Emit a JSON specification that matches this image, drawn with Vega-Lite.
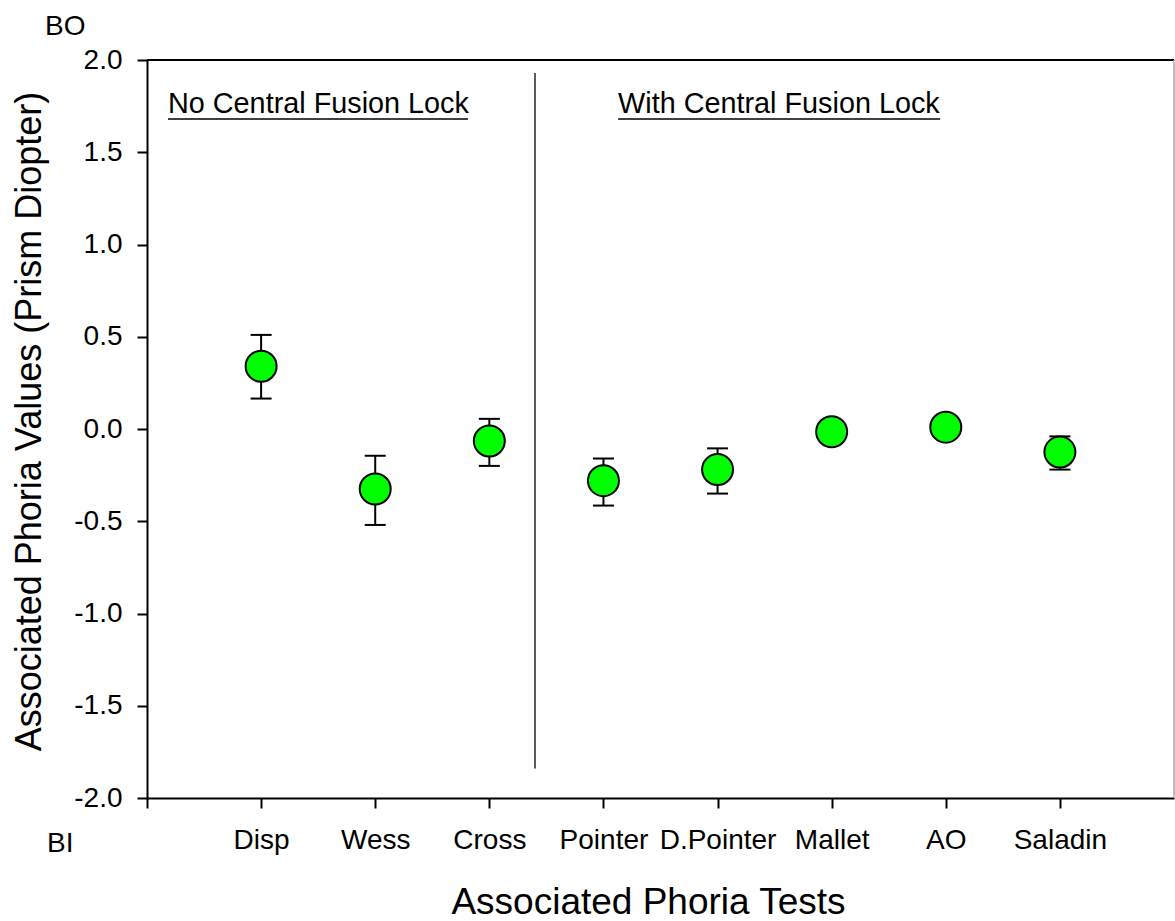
{
  "$schema": "https://vega.github.io/schema/vega-lite/v6.json",
  "width": 1027,
  "height": 738,
  "autosize": {"type": "none"},
  "padding": {"left": 147, "top": 60, "right": 1, "bottom": 123},
  "background": "white",
  "config": {
    "font": "Liberation Sans",
    "view": {"stroke": null},
    "axis": {
      "domainColor": "black", "domainWidth": 2, "tickColor": "black", "tickWidth": 2,
      "grid": false, "labelColor": "black", "titleColor": "black",
      "labelFont": "Liberation Sans", "titleFont": "Liberation Sans",
      "labelFontSize": 28, "titleFontSize": 36, "titleFontWeight": "normal"
    }
  },
  "datasets": {
    "tests": [
      {"test": "Disp", "pos": 1, "mean": 0.34, "lo": 0.165, "hi": 0.51},
      {"test": "Wess", "pos": 2, "mean": -0.325, "lo": -0.52, "hi": -0.145},
      {"test": "Cross", "pos": 3, "mean": -0.065, "lo": -0.2, "hi": 0.055},
      {"test": "Pointer", "pos": 4, "mean": -0.28, "lo": -0.415, "hi": -0.16},
      {"test": "D.Pointer", "pos": 5, "mean": -0.22, "lo": -0.35, "hi": -0.105},
      {"test": "Mallet", "pos": 6, "mean": -0.015, "lo": -0.07, "hi": 0.04},
      {"test": "AO", "pos": 7, "mean": 0.01, "lo": -0.05, "hi": 0.07},
      {"test": "Saladin", "pos": 8, "mean": -0.125, "lo": -0.22, "hi": -0.04}
    ],
    "notes": [
      {"label": "No Central Fusion Lock", "x": 0.184, "y": 1.713, "kind": "note"},
      {"label": "With Central Fusion Lock", "x": 4.128, "y": 1.713, "kind": "note"},
      {"label": "BO", "x": -0.894, "y": 2.136, "kind": "side"},
      {"label": "BI", "x": -0.876, "y": -2.293, "kind": "side"}
    ],
    "underlines": [
      {"x": 0.184, "x2": 2.813, "y": 1.68},
      {"x": 4.128, "x2": 6.95, "y": 1.68}
    ],
    "frame": [
      {"part": "top", "x": 0, "x2": 9, "y": 2, "y2": 2},
      {"part": "sep", "x": 3.4, "x2": 3.4, "y": 1.93, "y2": -1.84},
      {"part": "right", "x": 9, "x2": 9, "y": -2, "y2": 2}
    ]
  },
  "layer": [
    {
      "data": {"name": "frame"},
      "mark": {"type": "rule"},
      "encoding": {
        "x": {"field": "x", "type": "quantitative"},
        "x2": {"field": "x2"},
        "y": {"field": "y", "type": "quantitative"},
        "y2": {"field": "y2"},
        "color": {"field": "part", "type": "nominal", "scale": {"domain": ["top", "sep", "right"], "range": ["black", "#444444", "#aaaaaa"]}, "legend": null},
        "strokeWidth": {"field": "part", "type": "nominal", "scale": {"domain": ["top", "sep", "right"], "range": [2, 1.5, 1]}, "legend": null}
      }
    },
    {
      "data": {"name": "tests"},
      "mark": {"type": "rule", "color": "black", "strokeWidth": 2, "opacity": 1},
      "encoding": {
        "x": {"field": "pos", "type": "quantitative"},
        "y": {"field": "lo", "type": "quantitative"},
        "y2": {"field": "hi"}
      }
    },
    {
      "data": {"name": "tests"},
      "mark": {"type": "tick", "orient": "horizontal", "color": "black", "thickness": 2, "size": 21, "opacity": 1},
      "encoding": {
        "x": {"field": "pos", "type": "quantitative"},
        "y": {"field": "lo", "type": "quantitative"}
      }
    },
    {
      "data": {"name": "tests"},
      "mark": {"type": "tick", "orient": "horizontal", "color": "black", "thickness": 2, "size": 21, "opacity": 1},
      "encoding": {
        "x": {"field": "pos", "type": "quantitative"},
        "y": {"field": "hi", "type": "quantitative"}
      }
    },
    {
      "data": {"name": "tests"},
      "mark": {"type": "point", "shape": "circle", "filled": true, "fill": "#00ff00", "stroke": "black", "strokeWidth": 2, "size": 961, "opacity": 1},
      "encoding": {
        "x": {
          "field": "pos", "type": "quantitative",
          "scale": {"domain": [0, 9], "nice": false, "zero": false},
          "axis": {
            "title": "Associated Phoria Tests",
            "values": [0, 1, 2, 3, 4, 5, 6, 7, 8],
            "labelExpr": "datum.value==1?'Disp':datum.value==2?'Wess':datum.value==3?'Cross':datum.value==4?'Pointer':datum.value==5?'D.Pointer':datum.value==6?'Mallet':datum.value==7?'AO':datum.value==8?'Saladin':''",
            "tickSize": 10, "labelPadding": 18, "labelFlush": false, "labelOverlap": false,
            "titleFontSize": 37,
            "titleBaseline": "alphabetic", "titleX": 501, "titleY": 115
          }
        },
        "y": {
          "field": "mean", "type": "quantitative",
          "scale": {"domain": [-2, 2], "nice": false, "zero": false},
          "axis": {
            "title": "Associated Phoria Values (Prism Diopter)",
            "values": [-2, -1.5, -1, -0.5, 0, 0.5, 1, 1.5, 2],
            "labelExpr": "(datum.value<0?'-':'')+format(abs(datum.value),'.1f')",
            "tickSize": 10, "labelPadding": 15, "labelFlush": false, "labelOverlap": false,
            "titleBaseline": "alphabetic", "titleX": -107, "titleY": 361
          }
        }
      }
    },
    {
      "data": {"name": "underlines"},
      "mark": {"type": "rule", "color": "black", "strokeWidth": 1.5},
      "encoding": {
        "x": {"field": "x", "type": "quantitative"},
        "x2": {"field": "x2"},
        "y": {"field": "y", "type": "quantitative"}
      }
    },
    {
      "data": {"name": "notes"},
      "mark": {"type": "text", "align": "left", "baseline": "alphabetic", "font": "Liberation Sans", "color": "black"},
      "encoding": {
        "x": {"field": "x", "type": "quantitative"},
        "y": {"field": "y", "type": "quantitative"},
        "text": {"field": "label"},
        "size": {"field": "kind", "type": "nominal", "scale": {"domain": ["note", "side"], "range": [28.8, 28]}, "legend": null}
      }
    }
  ]
}
